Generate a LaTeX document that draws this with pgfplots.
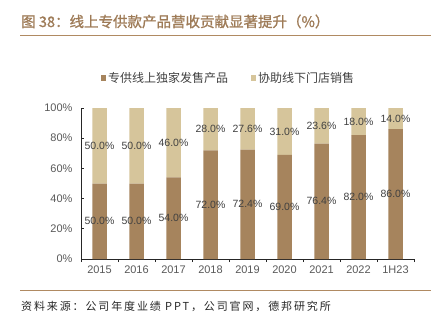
\documentclass[border=0pt]{standalone}
\usepackage{pgfplots}
\usepackage{pgfplotstable}
\pgfplotsset{compat=1.18}
\usepackage{fontspec}
\setmainfont{Liberation Sans}
\newfontfamily\lab{Liberation Sans}
\newfontfamily\cjk{Noto Sans CJK SC}
\newfontfamily\cjksrc[LetterSpace=17]{Noto Sans CJK SC}
\newfontfamily\cjktitle[FakeBold=1.2]{Noto Sans CJK SC}
\definecolor{darkbar}{HTML}{A6845D}
\definecolor{lightbar}{HTML}{D6C59B}
\definecolor{titlec}{HTML}{9E7B57}
\definecolor{rulec}{HTML}{B08A62}
\definecolor{ticktext}{HTML}{595959}
\definecolor{labtext}{HTML}{404040}
\pgfplotstableread{
x dark light
0 50 50
1 50 50
2 54 46
3 72 28
4 72.4 27.6
5 69 31
6 76.4 23.6
7 82 18
8 86 14
}\datatab
\pgfplotstableread{
x ylow vlow yhigh vhigh
0 25 50.0 75 50.0
1 25 50.0 75 50.0
2 27 54.0 77 46.0
3 36 72.0 86 28.0
4 36.2 72.4 86.2 27.6
5 34.5 69.0 84.5 31.0
6 38.2 76.4 88.2 23.6
7 41 82.0 91 18.0
8 43 86.0 92.6 14.0
}\labtab
\begin{document}
\begin{tikzpicture}[x=1pt,y=1pt]
\useasboundingbox (0,0) rectangle (438,322);
% title
\node[anchor=west, inner sep=0pt, text=titlec, font=\cjktitle\fontsize{14.5}{16}\selectfont] at (21,300.5) {图 38：线上专供款产品营收贡献显著提升（\%）};
\draw[rulec, line width=1.5pt] (20,286.3) -- (431,286.3);
\draw[rulec, line width=1.5pt] (20,31.3) -- (431,31.3);
\node[anchor=west, inner sep=0pt, text=black!85, font=\cjksrc\fontsize{11}{13}\selectfont] at (21,16) {资料来源：公司年度业绩 PPT，公司官网，德邦研究所};
\begin{axis}[
  at={(81pt,63pt)}, anchor=south west,
  scale only axis, width=333pt, height=151pt,
  ybar stacked, bar width=14.5pt,
  xmin=-0.5, xmax=8.5, ymin=0, ymax=100,
  axis x line*=bottom, axis y line*=left,
  axis line style={black!85, line width=0.9pt},
  xtick={0,...,8},
  xticklabels={2015,2016,2017,2018,2019,2020,2021,2022,1H23},
  minor xtick={-0.5,0.5,...,8.5},
  major x tick style={draw=none},
  minor x tick style={black!85, line width=0.9pt, yshift=-3pt},
  minor tick length=3pt,
  ytick={0,20,...,100},
  major tick length=3pt,
  tick align=inside,
  y tick style={black!85, line width=0.9pt},
  yticklabel={\pgfmathprintnumber{\tick}\%},
  /pgf/number format/assume math mode=true,
  ticklabel style={font=\lab\fontsize{11}{13}\selectfont, text=ticktext},
  yticklabel style={xshift=-5pt},
  xticklabel style={yshift=-3pt},
  legend style={at={(0.06,1.199)}, anchor=west, draw=none, fill=none, inner sep=0pt,
    font=\cjk\fontsize{12}{14}\selectfont, text=labtext,
    /tikz/every even column/.append style={column sep=21pt}},
  legend columns=2,
  legend image code/.code={\fill[#1] (0pt,-3pt) rectangle (5pt,3pt);},
]
\addplot[fill=darkbar, draw=none] table[x=x, y=dark] {\datatab};
\addlegendentry{专供线上独家发售产品}
\addplot[fill=lightbar, draw=none] table[x=x, y=light] {\datatab};
\addlegendentry{协助线下门店销售}
\end{axis}
\begin{axis}[
  at={(81pt,63pt)}, anchor=south west,
  scale only axis, width=333pt, height=151pt,
  xmin=-0.5, xmax=8.5, ymin=0, ymax=100,
  hide axis, clip=false,
  nodes near coords={\lab\fontsize{10.5}{12}\selectfont\pgfplotspointmeta\%},
  every node near coord/.append style={anchor=center, inner sep=0pt, font=\lab\fontsize{10.5}{12}\selectfont, text=labtext},
  point meta=explicit symbolic,
]
\addplot[draw=none, mark=none] table[x=x, y=ylow, meta=vlow] {\labtab};
\addplot[draw=none, mark=none] table[x=x, y=yhigh, meta=vhigh] {\labtab};
\end{axis}
\end{tikzpicture}
\end{document}
